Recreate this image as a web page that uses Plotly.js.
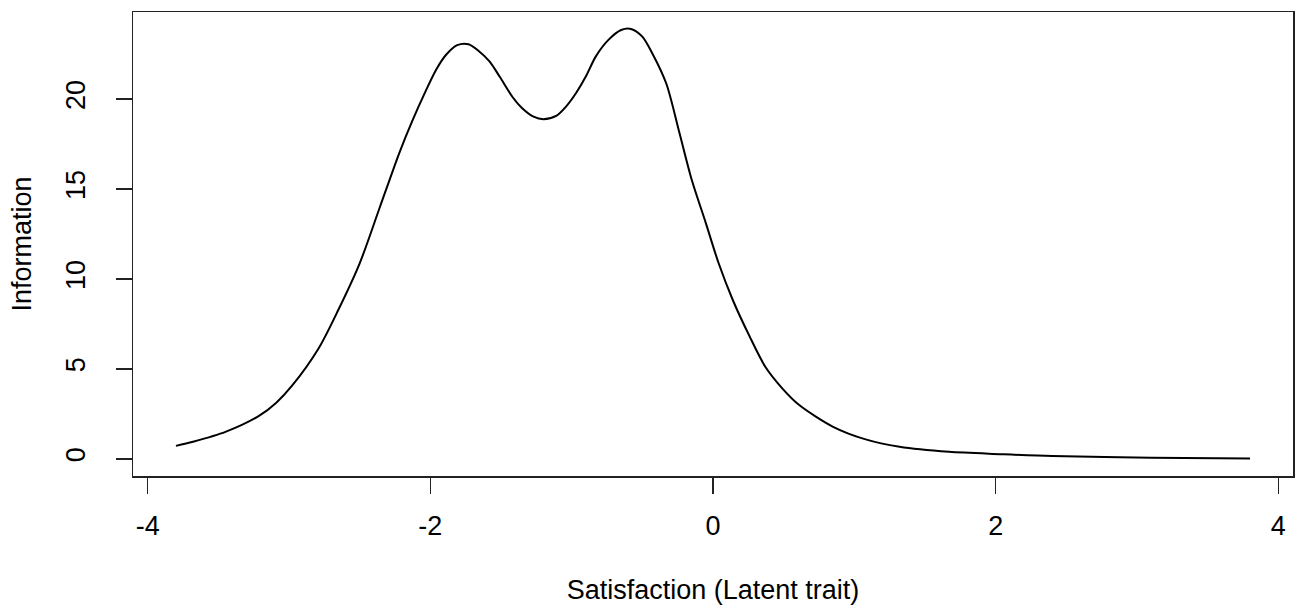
<!DOCTYPE html>
<html>
<head>
<meta charset="utf-8">
<script src="https://cdn.plot.ly/plotly-3.0.1.min.js"></script>
<style>html,body{margin:0;padding:0;background:#fff;}#chart{width:1295px;height:607px;}</style>
</head>
<body>
<div id="chart"></div>
<script>
// Latent trait values (x) and test information (y)
var theta = [-3.80, -3.68, -3.45, -3.21, -3.09, -2.98, -2.79, -2.65, -2.50, -2.36,
             -2.22, -2.13, -2.03, -1.96, -1.89, -1.81, -1.73, -1.66, -1.58, -1.51,
             -1.42, -1.35, -1.27, -1.20, -1.11, -1.04, -0.97, -0.90, -0.83, -0.74,
             -0.65, -0.58, -0.50, -0.43, -0.33, -0.24, -0.15, -0.05, 0.04, 0.14,
             0.26, 0.37, 0.49, 0.61, 0.85, 1.08, 1.32, 1.67, 2.03, 2.40, 3.10, 3.80];
var information = [0.72, 0.95, 1.50, 2.40, 3.12, 4.05, 6.15, 8.30, 10.87, 13.93,
                   17.0, 18.75, 20.5, 21.62, 22.45, 23.0, 23.05, 22.69, 22.08, 21.25,
                   20.13, 19.49, 19.02, 18.88, 19.06, 19.58, 20.32, 21.25, 22.36, 23.29,
                   23.84, 23.9, 23.47, 22.55, 20.85, 18.2, 15.5, 13.09, 10.87, 8.83,
                   6.79, 5.12, 3.92, 2.99, 1.78, 1.08, 0.67, 0.39, 0.26, 0.15, 0.06, 0.02];
var xTicks = [-4, -2, 0, 2, 4];
var yTicks = [0, 5, 10, 15, 20];
var xTitle = "Satisfaction (Latent trait)";
var yTitle = "Information";

var fontFam = "'Liberation Sans', Arial, Helvetica, sans-serif";
var fs = 27;
var trace = {
  x: theta, y: information, type: "scatter", mode: "lines",
  line: {color: "#000", width: 2, shape: "spline", smoothing: 0.8}, hoverinfo: "skip"
};
var layout = {
  width: 1295, height: 607,
  margin: {l: 133, r: 2, t: 12, b: 131},
  paper_bgcolor: "#fff", plot_bgcolor: "#fff",
  showlegend: false,
  font: {family: fontFam, size: fs, color: "#000"},
  xaxis: {
    range: [-4.104, 4.104], tickvals: xTicks, ticktext: xTicks.map(String),
    showgrid: false, zeroline: false,
    showline: true, mirror: true, linecolor: "#222", linewidth: 1.5,
    ticks: "outside", ticklen: 16, tickwidth: 1.5, tickcolor: "#222",
    ticklabelstandoff: 9,
    tickfont: {family: fontFam, size: fs, color: "#000"},
    title: {text: xTitle, font: {family: fontFam, size: fs, color: "#000"}, standoff: 40},
    automargin: false
  },
  yaxis: {
    range: [-0.955, 24.84], tickvals: yTicks, ticktext: yTicks.map(String),
    showgrid: false, zeroline: false,
    showline: true, mirror: true, linecolor: "#222", linewidth: 1.5,
    ticks: "outside", ticklen: 16, tickwidth: 1.5, tickcolor: "#222",
    tickangle: -90, ticklabelstandoff: 20,
    tickfont: {family: fontFam, size: fs, color: "#000"},
    title: {text: yTitle, font: {family: fontFam, size: fs, color: "#000"}, standoff: 21},
    automargin: false
  }
};
Plotly.newPlot("chart", [trace], layout, {displayModeBar: false, staticPlot: true});
</script>
</body>
</html>
